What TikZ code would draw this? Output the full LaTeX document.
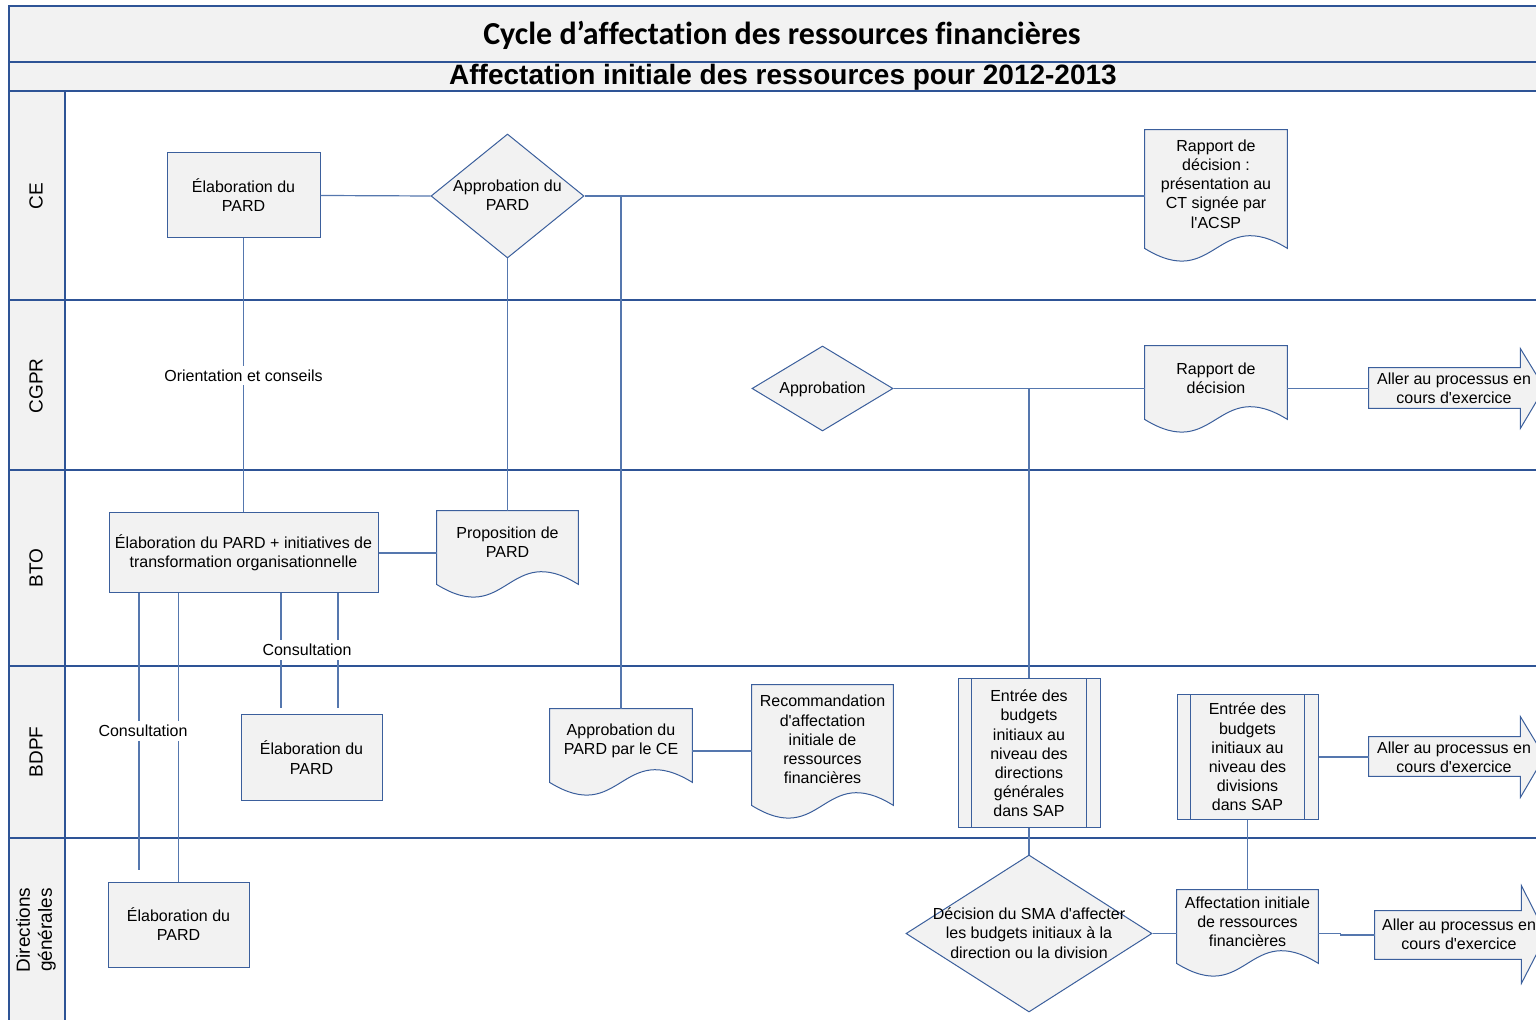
\documentclass[tikz,border=0pt]{standalone}
\usepackage{fontspec}
\setmainfont{Liberation Sans}
\newfontfamily\titlefont[Ligatures=NoCommon]{Carlito}
\usetikzlibrary{shapes.geometric,calc}
\definecolor{framecol}{HTML}{2E5496}
\definecolor{shapecol}{HTML}{3B5F9C}
\definecolor{conncol}{HTML}{5577AE}
\definecolor{fillgray}{HTML}{F2F2F2}
\newcommand\aq{\textquotesingle}
\newcommand\docpath[1]{\path[docline] (#1.north west) -- (#1.north east) -- (#1.south east) .. controls ($(#1.south)+(0,-44)$) and ($(#1.south)+(0,44)$) .. (#1.south west) -- cycle;}
\newcommand\ppbars[1]{\draw[shapeline] ($(#1.north west)+(14,0)$) -- ($(#1.south west)+(14,0)$); \draw[shapeline] ($(#1.north east)+(-14,0)$) -- ($(#1.south east)+(-14,0)$);}
\begin{document}
\begin{tikzpicture}[x=0.5pt,y=-0.5pt,
 frame/.style={draw=framecol,line width=1pt},
 shapeline/.style={draw=shapecol,line width=0.5pt},
 proc/.style={draw=shapecol,fill=fillgray,line width=0.5pt,rectangle,inner sep=0pt},
 dia/.style={draw=shapecol,fill=fillgray,line width=0.5pt,diamond,inner sep=0pt},
 holder/.style={rectangle,inner sep=0pt},
 docline/.style={draw=shapecol,fill=fillgray,line width=0.5pt},
 txt/.style={align=center,inner sep=0pt,font=\fontsize{8}{9.6}\selectfont},
 lbl/.style={txt,fill=white,inner xsep=1pt,inner ysep=2pt},
 lanetxt/.style={rotate=90,align=center,inner sep=0pt,font=\fontsize{9.5}{11}\selectfont},
 conn/.style={draw=conncol,line width=0.6pt}]
\useasboundingbox (0,0) rectangle (1536,1020);
% bands
\fill[fillgray] (9,6) rectangle (1550,91);
\fill[fillgray] (9,91) rectangle (65,1030);
\draw[frame] (1550,6) -- (9,6) -- (9,1030);
\draw[frame] (9,62) -- (1550,62);
\draw[frame] (9,91) -- (1550,91);
\draw[frame] (65,91) -- (65,1030);
\foreach \yy in {300,470,666,838} {\draw[frame] (9,\yy) -- (1550,\yy);}
\node[inner sep=0pt,font={\titlefont\bfseries\fontsize{16}{19}\selectfont}] (title) at (782,35) {Cycle d’affectation des ressources financières};
\node[inner sep=0pt,font={\bfseries\fontsize{14}{16}\selectfont}] (subtitle) at (783,77) {Affectation initiale des ressources pour 2012-2013};
% lane labels
\node[lanetxt] (lCE) at (36,196) {CE};
\node[lanetxt] (lCGPR) at (36,386) {CGPR};
\node[lanetxt] (lBTO) at (36,568) {BTO};
\node[lanetxt] (lBDPF) at (36,752) {BDPF};
\node[lanetxt] (lDG) at (36,930) {Directions\\générales};
% process boxes
\node[proc,minimum width=76.5pt,minimum height=42.5pt] (A) at (243.5,195.5) {};
\node[txt] (At) at (243.5,195) {Élaboration du\\PARD};
\node[proc,minimum width=134.5pt,minimum height=40pt] (C) at (243.5,553) {};
\node[txt] (Ct) at (243.5,553) {Élaboration du PARD + initiatives de\\transformation organisationnelle};
\node[proc,minimum width=70.5pt,minimum height=42.5pt] (E) at (311.5,757.5) {};
\node[txt] (Et) at (311.5,757.5) {Élaboration du\\PARD};
\node[proc,minimum width=70.5pt,minimum height=42.5pt] (DG) at (178.5,924.5) {};
\node[txt] (DGt) at (178.5,924) {Élaboration du\\PARD};
% decisions
\node[dia,minimum width=76.5pt,minimum height=62pt] (B) at (507.5,196) {};
\node[txt] (Bt) at (507.5,195.5) {Approbation du\\PARD};
\node[dia,minimum width=70.5pt,minimum height=42.5pt] (F) at (822.5,388.5) {};
\node[txt] (Ft) at (822.5,389) {Approbation};
\node[dia,minimum width=123pt,minimum height=78.5pt] (H) at (1029,933.5) {};
\node[txt] (Ht) at (1029,933) {Décision du SMA d\aq affecter\\les budgets initiaux à la\\direction ou la division};
% documents
\node[holder,minimum width=71pt,minimum height=59pt] (D3) at (1216,189) {};
\docpath{D3}
\node[txt] (D3t) at (1216,184) {Rapport de\\décision :\\présentation au\\CT signée par\\l\aq ACSP};
\node[holder,minimum width=71pt,minimum height=36.5pt] (D5) at (1216,382.5) {};
\docpath{D5}
\node[txt] (D5t) at (1216,378) {Rapport de\\décision};
\node[holder,minimum width=70.5pt,minimum height=36.5pt] (D8) at (507.5,547.5) {};
\docpath{D8}
\node[txt] (D8t) at (507.5,542.5) {Proposition de\\PARD};
\node[holder,minimum width=71pt,minimum height=36.5pt] (D10) at (621,745.5) {};
\docpath{D10}
\node[txt] (D10t) at (621,740.5) {Approbation du\\PARD par le CE};
\node[holder,minimum width=70.5pt,minimum height=60pt] (D11) at (822.5,745) {};
\docpath{D11}
\node[txt] (D11t) at (822.5,739.5) {Recommandation\\d\aq affectation\\initiale de\\ressources\\financières};
\node[holder,minimum width=70.5pt,minimum height=36.5pt] (D17) at (1247.5,926.5) {};
\docpath{D17}
\node[txt] (D17t) at (1247.5,922) {Affectation initiale\\de ressources\\financières};
% predefined processes
\node[proc,minimum width=71pt,minimum height=74pt] (P12) at (1029,753) {};
\ppbars{P12}
\node[txt] (P12t) at (1029,753.5) {Entrée des\\budgets\\initiaux au\\niveau des\\directions\\générales\\dans SAP};
\node[proc,minimum width=70.5pt,minimum height=62pt] (P13) at (1247.5,757) {};
\ppbars{P13}
\node[txt] (P13t) at (1247.5,757) {Entrée des\\budgets\\initiaux au\\niveau des\\divisions\\dans SAP};
% off-page arrows
\node[holder,minimum width=75.5pt,minimum height=20pt] (G1) at (1444.5,388) {};
\path[docline] (G1.north west) -- (G1.north east) -- ++(0,-19) -- ($(G1.east)+(24,0)$) -- ($(G1.south east)+(0,20)$) -- (G1.south east) -- (G1.south west) -- cycle;
\node[txt] (G1t) at (1454,388) {Aller au processus en\\cours d\aq exercice};
\node[holder,minimum width=75.5pt,minimum height=19.5pt] (G2) at (1444.5,756.5) {};
\path[docline] (G2.north west) -- (G2.north east) -- ++(0,-20) -- ($(G2.east)+(24,0)$) -- ($(G2.south east)+(0,21)$) -- (G2.south east) -- (G2.south west) -- cycle;
\node[txt] (G2t) at (1454,757) {Aller au processus en\\cours d\aq exercice};
\node[holder,minimum width=73pt,minimum height=24pt] (G3) at (1448,935) {};
\path[docline] (G3.north west) -- (G3.north east) -- ++(0,-25) -- ($(G3.east)+(25,0)$) -- ($(G3.south east)+(0,24)$) -- (G3.south east) -- (G3.south west) -- cycle;
\node[txt] (G3t) at (1459,934) {Aller au processus en\\cours d\aq exercice};
% connectors
\draw[conn] (A.east) -- (B.west);
\draw[conn] (B.east) -- (B.east -| D3.west);
\draw[conn] (B.east) -| (D10.north);
\draw[conn] (B.south) -- (D8.north);
\draw[conn] (A.south) -- (C.north) node[lbl,midway] (L1) {Orientation et conseils};
\draw[conn] (C.east) -- (C.east -| D8.west);
\draw[conn,shorten >=3pt] (281,0 |- C.south) -- (281,0 |- E.north);
\draw[conn,shorten >=3pt] (338,0 |- C.south) -- (338,0 |- E.north);
\node[lbl] (L2) at (307,650) {Consultation};
\draw[conn,shorten >=6pt] (139,0 |- C.south) -- (139,0 |- DG.north);
\draw[conn] (DG.north |- C.south) -- (DG.north);
\node[lbl] (L3) at (143,731) {Consultation};
\draw[conn] (F.east) -- (F.east -| D5.west);
\draw[conn] (F.east -| P12.north) -- (P12.north);
\draw[conn] (F.east -| D5.east) -- (F.east -| G1.west);
\coordinate (d10r) at ($(D10.east)+(0,5.5)$);
\draw[conn] (d10r) -- (d10r -| D11.west);
\draw[conn] (P12.south) -- (H.north);
\draw[conn] (P13.east) -- (P13.east -| G2.west);
\draw[conn] (P13.south) -- (D17.north);
\draw[conn] (H.east) -- (H.east -| D17.west);
\draw[conn] (H.east -| D17.east) -- ++(22,0) |- (G3.west);
\end{tikzpicture}
\end{document}
